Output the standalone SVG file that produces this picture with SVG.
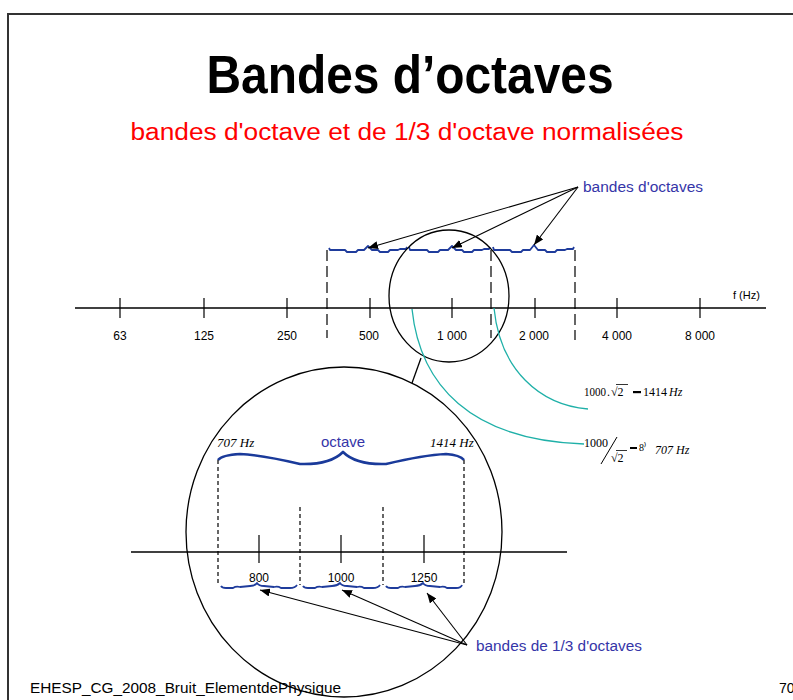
<svg xmlns="http://www.w3.org/2000/svg" width="793" height="700" viewBox="0 0 793 700">
<defs>
<marker id="ah" viewBox="0 0 10 8" refX="10" refY="4" markerWidth="10" markerHeight="8" markerUnits="userSpaceOnUse" orient="auto">
<path d="M0,0 L10,4 L0,8 Z" fill="#000"/>
</marker>
<style>
.sans{font-family:"Liberation Sans",Arial,sans-serif}
.serif{font-family:"Liberation Serif","Times New Roman",serif}
.blue{fill:#3535a8}
.brace{fill:none;stroke:#1f3c9c;stroke-width:1.8;stroke-linejoin:round}
.bigbrace{fill:none;stroke:#1a3a9a;stroke-width:2.6;stroke-linejoin:round}
.dash{stroke:#000;stroke-width:1.2;stroke-dasharray:11,5}
.fdash{stroke:#000;stroke-width:1.2;stroke-dasharray:4,3}
.line{stroke:#000;stroke-width:1.3;fill:none}
.teal{stroke:#1fb0a8;stroke-width:1.3;fill:none}
.arrow{stroke:#000;stroke-width:1.1;fill:none;marker-end:url(#ah)}
.lbl{font-size:12px;text-anchor:middle}
</style>
</defs>
<rect x="0" y="0" width="793" height="700" fill="#fff"/>
<path d="M8,700 L8,14 L793,14" fill="none" stroke="#333" stroke-width="2"/>

<g id="title">
<text x="410" y="93" class="sans" font-size="54" font-weight="bold" text-anchor="middle" textLength="407" lengthAdjust="spacingAndGlyphs">Bandes d’octaves</text>
</g>
<g id="subtitle">
<text x="407" y="140" class="sans" font-size="23" fill="#ff0000" text-anchor="middle" textLength="553" lengthAdjust="spacingAndGlyphs">bandes d'octave et de 1/3 d'octave normalisées</text>
</g>

<g id="frequency-axis">
<line x1="75" y1="308" x2="766" y2="308" stroke="#000" stroke-width="1.5"/>
<g stroke="#000" stroke-width="1.2">
<line x1="120" y1="298" x2="120" y2="318"/>
<line x1="204" y1="298" x2="204" y2="318"/>
<line x1="287" y1="298" x2="287" y2="318"/>
<line x1="370" y1="298" x2="370" y2="318"/>
<line x1="452" y1="298" x2="452" y2="318"/>
<line x1="535" y1="298" x2="535" y2="318"/>
<line x1="617" y1="298" x2="617" y2="318"/>
<line x1="700" y1="298" x2="700" y2="318"/>
</g>
<g class="sans lbl">
<text x="120" y="340">63</text>
<text x="204" y="340">125</text>
<text x="287" y="340">250</text>
<text x="369" y="340">500</text>
<text x="452" y="340">1 000</text>
<text x="534" y="340">2 000</text>
<text x="617" y="340">4 000</text>
<text x="700" y="340">8 000</text>
</g>
<text x="733" y="299" class="sans" font-size="11">f (Hz)</text>
<line x1="327" y1="250" x2="327" y2="338" class="dash"/>
<line x1="491" y1="250" x2="491" y2="338" class="dash"/>
<line x1="575" y1="250" x2="575" y2="340" class="dash"/>
</g>

<g id="octave-braces">
<path class="brace" d="M329,248 L330,250 L345,250 L347,252 L356,252 L358,250 L364,250 L368,246 L372,250 L378,250 L380,252 L388,252 L390,250 L398,250 L400,249 L406,249 L407,247"/>
<path class="brace" d="M409,247 L410,250 L427,250 L429,252 L438,252 L440,250 L448,250 L452,246 L456,250 L462,250 L464,252 L472,252 L474,250 L482,250 L484,249 L489,249 L490,247"/>
<path class="brace" d="M493,247 L494,250 L510,250 L512,252 L521,252 L523,250 L530,250 L534,245 L538,250 L545,250 L547,252 L555,252 L557,250 L565,250 L567,249 L573,249 L574,247"/>
</g>

<g id="octaves-label">
<text x="583" y="192" class="sans blue" font-size="14" textLength="120" lengthAdjust="spacingAndGlyphs">bandes d'octaves</text>
</g>

<g id="zoom-circle">
<ellipse cx="449" cy="296" rx="60" ry="66" class="line"/>
</g>

<g id="big-circle">
<ellipse cx="344" cy="532" rx="158" ry="165" class="line"/>
<path class="bigbrace" d="M218,460 Q222,455 240,454 Q262,455 300,464 Q330,465 343,452 Q356,465 386,464 Q424,455 446,454 Q460,455 464,460"/>
<text x="217" y="447" class="serif" font-size="13" font-style="italic">707 Hz</text>
<text x="430" y="447" class="serif" font-size="13" font-style="italic">1414 Hz</text>
<text x="343" y="447" class="sans blue" font-size="15" text-anchor="middle">octave</text>
<line x1="218" y1="460" x2="218" y2="585" class="fdash"/>
<line x1="464" y1="460" x2="464" y2="585" class="fdash"/>
<line x1="300" y1="507" x2="300" y2="585" class="fdash"/>
<line x1="383" y1="507" x2="383" y2="585" class="fdash"/>
<line x1="131" y1="552" x2="567" y2="552" stroke="#000" stroke-width="1.4"/>
<g stroke="#000" stroke-width="1.2">
<line x1="259" y1="535" x2="259" y2="563"/>
<line x1="341" y1="535" x2="341" y2="563"/>
<line x1="424" y1="535" x2="424" y2="563"/>
</g>
<g class="sans" font-size="12" text-anchor="middle">
<text x="259" y="582">800</text>
<text x="341" y="582">1000</text>
<text x="424" y="582">1250</text>
</g>
<path class="brace" d="M221,586 Q222,588 226,588 L233,588 Q236,586 240,587 L250,586 Q255,586 257,583 Q259,586 264,586 L274,587 Q278,586 281,588 L290,588 Q295,588 297,585"/>
<path class="brace" d="M303,586 Q304,588 308,588 L315,588 Q318,586 322,587 L332,586 Q337,586 340,583 Q342,586 347,586 L357,587 Q361,586 364,588 L373,588 Q378,588 380,585"/>
<path class="brace" d="M386,586 Q387,588 391,588 L398,588 Q401,586 405,587 L415,586 Q420,586 423,583 Q425,586 430,586 L440,587 Q444,586 447,588 L456,588 Q461,588 462,585"/>
</g>

<g id="formula-sqrt2">
<text x="584" y="396" class="serif" font-size="12" textLength="22" lengthAdjust="spacingAndGlyphs">1000</text>
<text x="607" y="396" class="serif" font-size="12">.</text>
<text x="611" y="396" class="serif" font-size="12">√2</text>
<line x1="616" y1="384.5" x2="628" y2="384.5" stroke="#000" stroke-width="0.8"/>
<rect x="633" y="391" width="8" height="2.2" fill="#000"/>
<text x="643" y="396" class="serif" font-size="12">1414</text>
<text x="669" y="396" class="serif" font-size="12" font-style="italic">Hz</text>
</g>

<g id="formula-div">
<text x="584" y="447" class="serif" font-size="12">1000</text>
<line x1="601" y1="464" x2="617" y2="437" stroke="#000" stroke-width="1"/>
<text x="611" y="462" class="serif" font-size="12">√2</text>
<line x1="616" y1="450.5" x2="627" y2="450.5" stroke="#000" stroke-width="0.8"/>
<rect x="630" y="447" width="7" height="2" fill="#000"/>
<text x="639" y="451" class="serif" font-size="10">8⁾</text>
<text x="655" y="454" class="serif" font-size="12" font-style="italic">707 Hz</text>
</g>

<g id="third-label">
<text x="476" y="651" class="sans blue" font-size="14" textLength="166" lengthAdjust="spacingAndGlyphs">bandes de 1/3 d'octaves</text>
</g>

<g id="footer">
<text x="30" y="693" class="sans" font-size="14" textLength="311" lengthAdjust="spacingAndGlyphs">EHESP_CG_2008_Bruit_ElementdePhysique</text>
<text x="779" y="693" class="sans" font-size="14">70</text>
</g>

<g id="connectors">
<line x1="578" y1="187" x2="368" y2="248" class="arrow"/>
<line x1="578" y1="187" x2="452" y2="248" class="arrow"/>
<line x1="578" y1="187" x2="534" y2="245" class="arrow"/>
<line x1="421" y1="358" x2="412" y2="383" class="line"/>
<path class="teal" d="M412,309 C420,385 470,440 584,444"/>
<path class="teal" d="M494,308 C500,370 540,405 588,409"/>
<line x1="467" y1="645" x2="260" y2="590" class="arrow"/>
<line x1="467" y1="645" x2="342" y2="590" class="arrow"/>
<line x1="467" y1="645" x2="427" y2="593" class="arrow"/>
</g>
</svg>
